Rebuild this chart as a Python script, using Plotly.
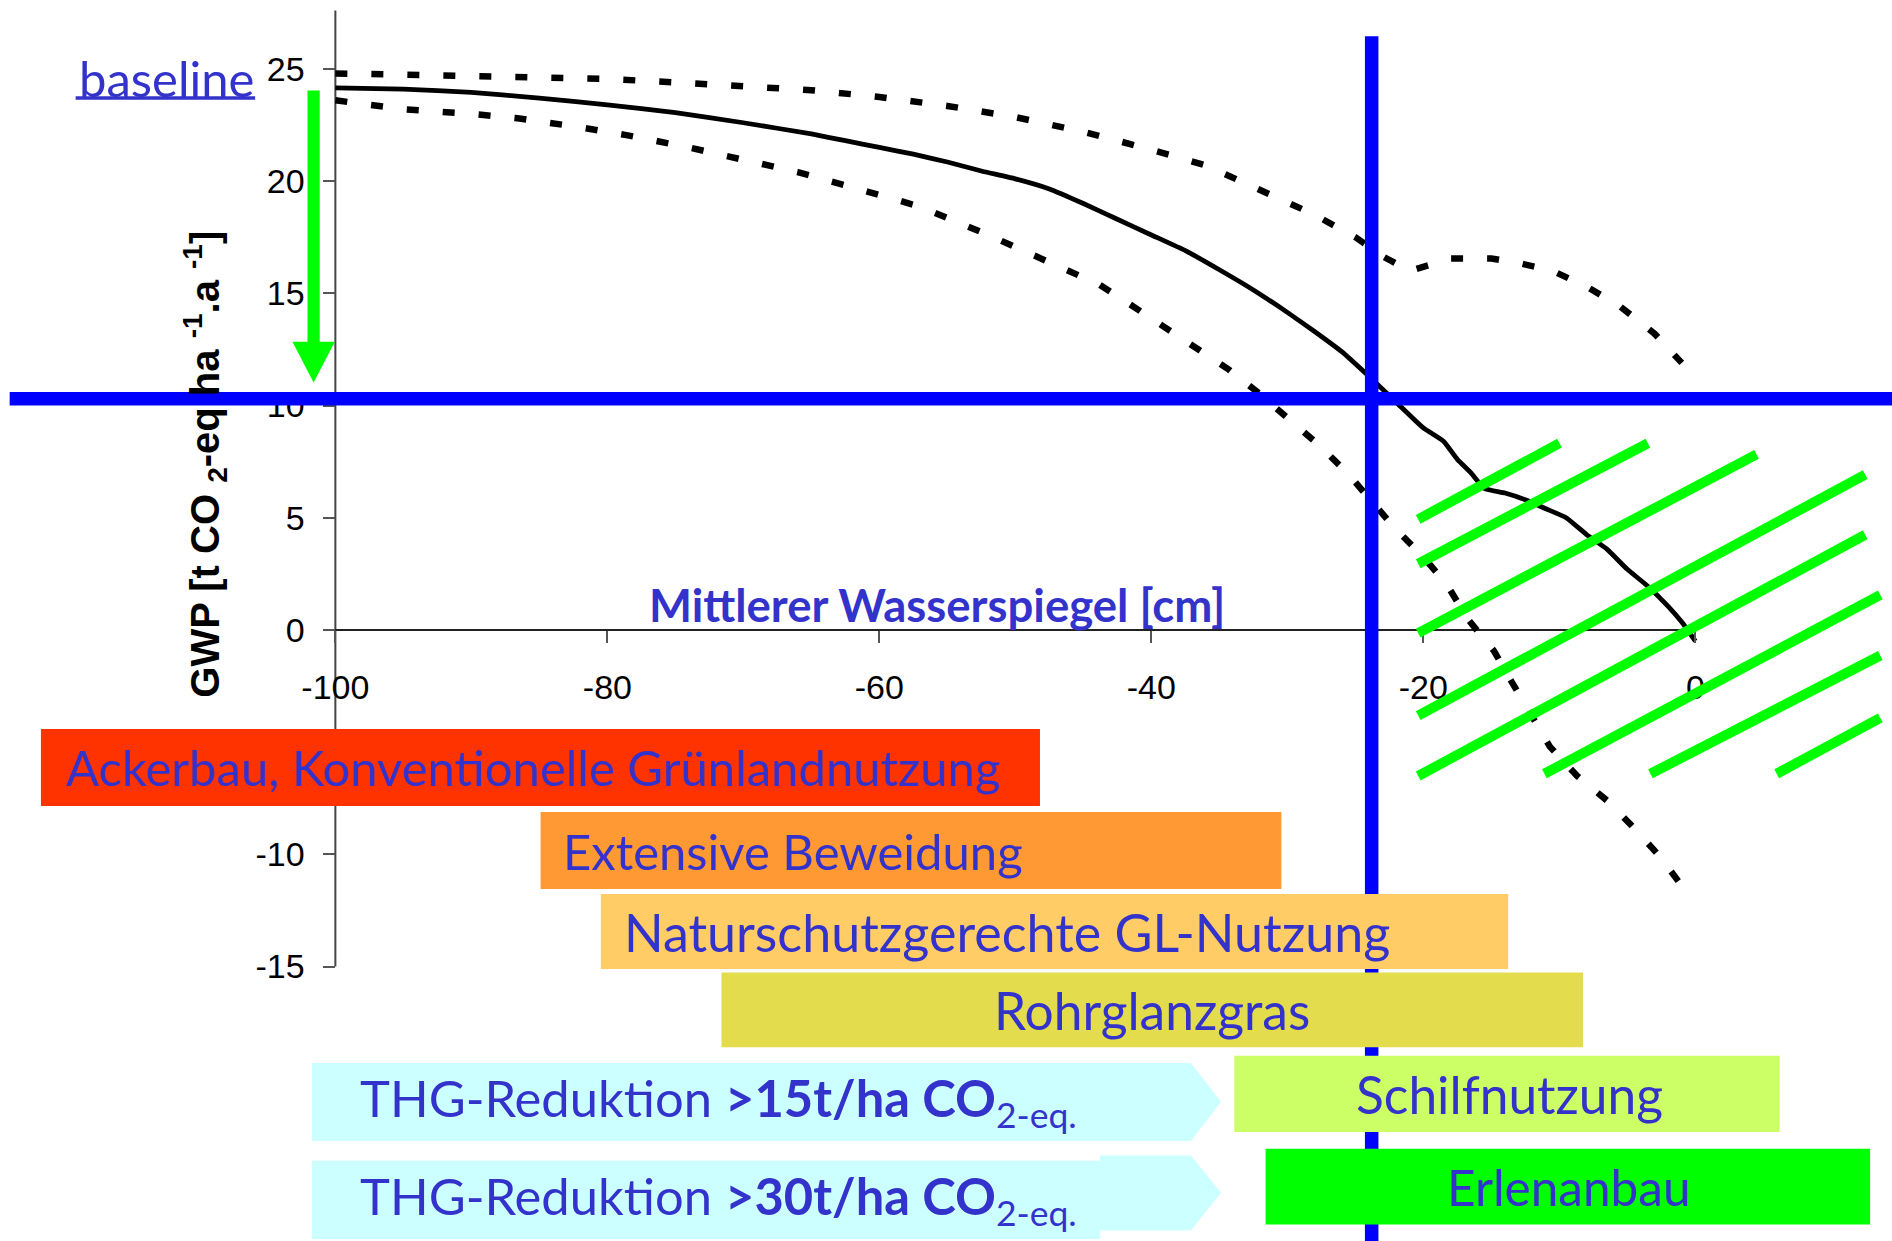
import plotly.graph_objects as go

# ---------------- data ----------------
# mean GWP curve (solid) and its upper / lower bounds (dashed)
x_mean = [-100, -95, -90, -85, -80, -75, -70, -65, -62.5, -60, -57.5, -55, -52.5, -50,
          -47.5, -45, -42.5, -40, -37.5, -35, -32.5, -30, -28, -26, -24, -22, -20, -18.5,
          -17.5, -16.5, -15.5, -14, -12.5, -11, -9.5, -8, -6.5, -5, -3.5, -2, -1, 0]
y_mean = [24.15, 24.1, 23.95, 23.7, 23.4, 23.05, 22.6, 22.1, 21.8, 21.5, 21.2, 20.85, 20.45,
          20.1, 19.65, 19.0, 18.3, 17.6, 16.9, 16.05, 15.15, 14.15, 13.3, 12.4, 11.3, 10.15,
          9.0, 8.4, 7.6, 7.0, 6.3, 6.1, 5.8, 5.4, 5.0, 4.25, 3.6, 2.7, 1.95, 1.05, 0.35, -0.5]

x_upper = [-100, -95, -90, -85, -80, -75, -70, -65, -60, -55, -50, -45, -40, -36, -32,
           -28, -25, -23, -21, -19.5, -18, -15, -13, -10.5, -8, -5.5, -3, -1]
y_upper = [24.8, 24.75, 24.7, 24.65, 24.55, 24.4, 24.25, 24.05, 23.75, 23.35, 22.85, 22.2,
           21.4, 20.7, 19.6, 18.5, 17.5, 16.65, 16.0, 16.3, 16.55, 16.55, 16.35, 16.0, 15.3,
           14.4, 13.2, 11.9]

x_lower = [-100, -95, -90, -86.6, -82, -78.6, -74, -70, -66, -62.6, -57, -52, -47, -43.8,
           -41.5, -39.3, -36.8, -34.3, -32.2, -29.8, -27.7, -25.6, -22.1, -20, -18.3, -16.7,
           -14.8, -13.5, -10.7, -8.7, -6.3, -4.4, -2.6, -1]
y_lower = [23.6, 23.2, 23.0, 22.8, 22.4, 22.05, 21.5, 20.94, 20.4, 19.83, 18.86, 17.6, 16.26,
           15.38, 14.48, 13.58, 12.62, 11.6, 10.6, 9.3, 8.25, 7.0, 4.54, 3.25, 2.05, 0.46,
           -0.94, -2.32, -5.2, -6.5, -7.7, -8.9, -10.1, -11.4]

x_ticks = [-100, -80, -60, -40, -20, 0]
x_tick_text = ["-100", "-80", "-60", "-40", "-20", "0"]
y_ticks = [-15, -10, -5, 0, 5, 10, 15, 20, 25]
y_tick_text = ["-15", "-10", "-5", "0", "5", "10", "15", "20", "25"]

x_title = "Mittlerer Wasserspiegel [cm]"
y_title = "GWP [t CO <sub>2</sub>-eq ha <sup>-1</sup>.a <sup>-1</sup>]"
baseline_label = "baseline"

# target water level / GWP target (blue cross lines)
target_water_level = -23.8
target_gwp = 10.3

# land-use options and the water-level range they cover
land_use_labels = ["Ackerbau, Konventionelle Grünlandnutzung", "Extensive Beweidung",
                   "Naturschutzgerechte GL-Nutzung", "Rohrglanzgras", "Schilfnutzung",
                   "Erlenanbau"]
land_use_from = [-121.65, -84.91, -80.48, -71.61, -33.9, -31.6]
land_use_to = [-48.19, -30.44, -13.76, -8.26, 6.2, 12.85]

reduction_labels = ["THG-Reduktion <b>&gt;15t/ha CO</b><sub>2-eq.</sub>",
                    "THG-Reduktion <b>&gt;30t/ha CO</b><sub>2-eq.</sub>"]

# ---------------- layout / style ----------------
XR = [-124.66, 14.46]
YR = [-27.23, 28.07]
Y_AXIS_TOP = 27.6
x_axis_pos = (0 - YR[0]) / (YR[1] - YR[0])
y_axis_pos = (-100 - XR[0]) / (XR[1] - XR[0])

TEXT_BLUE = "#3333CC"
COMIC = "Comic Sans MS, Lato, sans-serif"
ARIAL = "Liberation Sans, Arial, sans-serif"

box_rows = [(-4.41, -7.85), (-8.11, -11.55), (-11.77, -15.11), (-15.27, -18.6),
            (-18.98, -22.37), (-23.12, -26.5)]
box_colors = ["#FF3300", "#FF9933", "#FFCC66", "#E3DC4D", "#CCFF66", "#00FF00"]
box_text_pos = [("left", -119.92), ("left", -83.41), ("left", -78.93),
                ("center", -39.94), ("center", -13.7), ("center", -9.3)]
box_font = [49, 49, 52, 51.5, 51.5, 49.5]

hatch_segments = [(-20.38, 4.93, -9.99, 8.32), (-20.38, 2.95, -3.49, 8.32),
                  (-20.38, -0.14, 4.50, 7.82), (-20.38, -3.82, 12.49, 6.92),
                  (-20.38, -6.51, 12.49, 4.24), (-11.10, -6.41, 13.6, 1.56),
                  (-3.30, -6.41, 13.6, -1.14), (5.98, -6.41, 13.6, -3.92)]

fig = go.Figure()

dash_style = "12px,24px"
fig.add_trace(go.Scatter(x=x_upper, y=y_upper, mode="lines", hoverinfo="skip",
                         line=dict(color="black", width=6.5, dash=dash_style)))
fig.add_trace(go.Scatter(x=x_lower, y=y_lower, mode="lines", hoverinfo="skip",
                         line=dict(color="black", width=6.5, dash=dash_style)))
fig.add_trace(go.Scatter(x=x_mean, y=y_mean, mode="lines", hoverinfo="skip",
                         line=dict(color="black", width=4.8, shape="spline", smoothing=0.4)))

shapes = []
# axis lines
shapes.append(dict(type="line", xref="x", yref="y", x0=-100, x1=-100, y0=y_ticks[0],
                   y1=Y_AXIS_TOP, line=dict(color="#444444", width=2), layer="below"))
shapes.append(dict(type="line", xref="x", yref="y", x0=x_ticks[0], x1=x_ticks[-1], y0=0,
                   y1=0, line=dict(color="#222222", width=2), layer="below"))
# blue target cross
shapes.append(dict(type="line", xref="x", yref="y", x0=-123.95, x1=XR[1], y0=target_gwp,
                   y1=target_gwp, line=dict(color="#0000FF", width=13.5), layer="above"))
shapes.append(dict(type="line", xref="x", yref="y", x0=target_water_level,
                   x1=target_water_level, y0=26.46, y1=YR[0],
                   line=dict(color="#0000FF", width=13.5), layer="above"))
# green hatching
for (a, b, c, d) in hatch_segments:
    shapes.append(dict(type="line", xref="x", yref="y", x0=a, y0=b, x1=c, y1=d,
                       line=dict(color="#00FF00", width=10), layer="above"))
# land-use boxes
for i in range(len(land_use_labels)):
    top, bot = box_rows[i]
    shapes.append(dict(type="rect", xref="x", yref="y", x0=land_use_from[i],
                       x1=land_use_to[i], y0=bot, y1=top, fillcolor=box_colors[i],
                       line=dict(width=0), layer="above"))
# reduction arrows
CYAN = "#CCFFFF"
a1 = dict(left=-101.72, top=-19.3, bot=-22.77, shoulder=-37.09, tip=-34.88, mid=-21.02)
shapes.append(dict(type="path", xref="x", yref="y", fillcolor=CYAN, line=dict(width=0),
                   layer="above",
                   path=(f"M {a1['left']},{a1['top']} L {a1['shoulder']},{a1['top']} "
                         f"L {a1['tip']},{a1['mid']} L {a1['shoulder']},{a1['bot']} "
                         f"L {a1['left']},{a1['bot']} Z")))
shapes.append(dict(type="rect", xref="x", yref="y", x0=-101.72, x1=-43.78, y0=-27.14,
                   y1=-23.65, fillcolor=CYAN, line=dict(width=0), layer="above"))
a2 = dict(left=-43.78, top=-23.42, bot=-26.76, shoulder=-37.09, tip=-34.88, mid=-25.08)
shapes.append(dict(type="path", xref="x", yref="y", fillcolor=CYAN, line=dict(width=0),
                   layer="above",
                   path=(f"M {a2['left']},{a2['top']} L {a2['shoulder']},{a2['top']} "
                         f"L {a2['tip']},{a2['mid']} L {a2['shoulder']},{a2['bot']} "
                         f"L {a2['left']},{a2['bot']} Z")))
# green baseline arrow
ax_c, sh, hh = -101.6, 0.45, 1.56
a_top, a_head, a_tip = 24.04, 12.84, 11.02
shapes.append(dict(type="path", xref="x", yref="y", fillcolor="#00FF00", line=dict(width=0),
                   layer="above",
                   path=(f"M {ax_c-sh},{a_top} L {ax_c+sh},{a_top} L {ax_c+sh},{a_head} "
                         f"L {ax_c+hh},{a_head} L {ax_c},{a_tip} L {ax_c-hh},{a_head} "
                         f"L {ax_c-sh},{a_head} Z")))
# underline of "baseline"
shapes.append(dict(type="line", xref="x", yref="y", x0=-119.1, x1=-105.9, y0=23.7, y1=23.7,
                   line=dict(color=TEXT_BLUE, width=3.5), layer="above"))

annotations = []
for i, lab in enumerate(land_use_labels):
    top, bot = box_rows[i]
    anchor, xpos = box_text_pos[i]
    annotations.append(dict(x=xpos, y=(top + bot) / 2, xref="x", yref="y", text=lab,
                            showarrow=False, xanchor=anchor, yanchor="middle",
                            font=dict(family=COMIC, size=box_font[i], color=TEXT_BLUE)))
for lab, yc in zip(reduction_labels, [-21.02, -25.38]):
    annotations.append(dict(x=-98.37, y=yc, xref="x", yref="y", text=lab, showarrow=False,
                            xanchor="left", yanchor="middle",
                            font=dict(family=COMIC, size=50.7, color=TEXT_BLUE)))
annotations.append(dict(x=-55.75, y=1.15, xref="x", yref="y", text="<b>" + x_title + "</b>",
                        showarrow=False, xanchor="center", yanchor="middle",
                        font=dict(family=COMIC, size=45.5, color=TEXT_BLUE)))
annotations.append(dict(x=-112.45, y=24.6, xref="x", yref="y", text=baseline_label,
                        showarrow=False, xanchor="center", yanchor="middle",
                        font=dict(family=COMIC, size=49, color=TEXT_BLUE)))
annotations.append(dict(x=-109.6, y=7.4, xref="x", yref="y", text="<b>" + y_title + "</b>",
                        showarrow=False, textangle=-90, xanchor="center", yanchor="middle",
                        font=dict(family=ARIAL, size=40, color="black")))

axis_common = dict(showgrid=False, zeroline=False, showline=False, ticks="outside",
                   ticklen=12, tickwidth=2, tickcolor="#555555", tickmode="array",
                   tickfont=dict(family=ARIAL, size=34, color="black"), fixedrange=True)

fig.update_layout(
    width=1892, height=1241, margin=dict(l=0, r=0, t=0, b=0),
    paper_bgcolor="white", plot_bgcolor="white", showlegend=False,
    xaxis=dict(range=XR, domain=[0, 1], anchor="free", position=x_axis_pos,
               tickvals=x_ticks, ticktext=x_tick_text, ticklabelstandoff=15, **axis_common),
    yaxis=dict(range=YR, domain=[0, 1], anchor="free", position=y_axis_pos,
               tickvals=y_ticks, ticktext=y_tick_text, ticklabelstandoff=12, **axis_common),
    shapes=shapes, annotations=annotations,
)

fig.write_html("out.html", config={"displayModeBar": False},
               post_script="document.body.style.margin='0px';")
